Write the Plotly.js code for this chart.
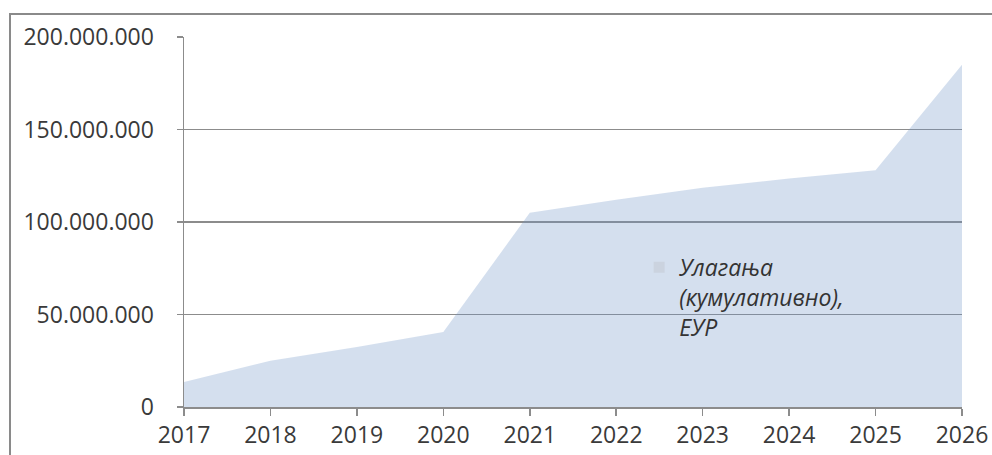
<!DOCTYPE html>
<html><head><meta charset="utf-8">
<script src="https://cdn.plot.ly/plotly-3.0.1.min.js"></script>
<style>
html,body{margin:0;padding:0;background:#fff;}
#chart{width:992px;height:455px;position:relative;}
#frame{position:absolute;left:9px;top:13px;width:990px;height:450px;border-left:2px solid #8a8a8a;border-top:2px solid #8a8a8a;pointer-events:none;}
</style></head>
<body>
<div id="chart"></div>
<div id="frame"></div>
<script>
var years = [2017, 2018, 2019, 2020, 2021, 2022, 2023, 2024, 2025, 2026];
var investmentsCumulativeEUR = [13500000, 25000000, 32500000, 40500000, 105000000, 112000000, 118500000, 123500000, 128000000, 185000000];
var seriesName = 'Улагања<br>(кумулативно),<br>ЕУР';
var yTickVals = [0, 50000000, 100000000, 150000000, 200000000];
var yTickText = ['0', '50.000.000', '100.000.000', '150.000.000', '200.000.000'];

var areaTrace = {
  x: years,
  y: investmentsCumulativeEUR,
  type: 'scatter',
  mode: 'none',
  fill: 'tozeroy',
  fillcolor: 'rgba(112,148,198,0.3)',
  showlegend: false,
  hoverinfo: 'skip'
};
var legendTrace = {
  x: [null], y: [null],
  type: 'scatter', mode: 'markers',
  marker: {symbol: 'square', size: 11, color: '#cbd3df'},
  name: seriesName,
  showlegend: true,
  hoverinfo: 'skip'
};

var layout = {
  width: 992, height: 455,
  margin: {l: 184, r: 30, t: 37, b: 48},
  paper_bgcolor: '#fff', plot_bgcolor: '#fff',
  font: {family: 'Open Sans, sans-serif', size: 23, color: '#3a3a3a'},
  showlegend: true,
  legend: {
    x: 0.585, y: 0.436, xanchor: 'left', yanchor: 'top',
    bgcolor: 'rgba(0,0,0,0)',
    font: {family: 'Open Sans, sans-serif', size: 23, color: '#333', style: 'italic'},
    valign: 'top', itemwidth: 30, tracegroupgap: 0
  },
  xaxis: {
    range: [2017, 2026], tickmode: 'array', tickvals: years,
    ticktext: years.map(String),
    showgrid: false, zeroline: false,
    showline: true, linecolor: '#8c8c8c', linewidth: 1.5,
    ticks: 'outside', ticklen: 7, tickcolor: '#8c8c8c', tickwidth: 1.5,
    tickfont: {size: 23, color: '#3a3a3a'}
  },
  yaxis: {
    range: [0, 200000000], tickmode: 'array', tickvals: yTickVals, ticktext: yTickText,
    showgrid: true, gridcolor: '#8c8c8c', gridwidth: 1.5,
    zeroline: false, showline: true, linecolor: '#8c8c8c', linewidth: 1.5,
    ticks: 'outside', ticklen: 6, tickcolor: '#8c8c8c', tickwidth: 1.5,
    ticklabelstandoff: 18,
    tickfont: {size: 23, color: '#3a3a3a'}
  }
};

Plotly.newPlot('chart', [areaTrace, legendTrace], layout, {displayModeBar: false, staticPlot: true});
</script>
</body></html>
